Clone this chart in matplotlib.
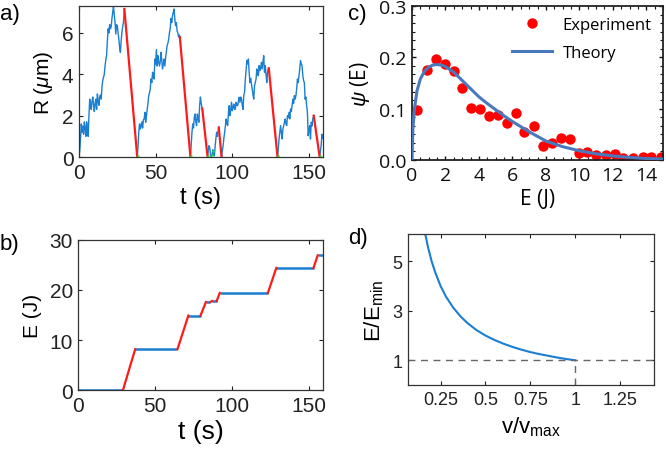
import matplotlib
matplotlib.use("Agg")
import matplotlib.pyplot as plt
from matplotlib.ticker import MultipleLocator, FormatStrFormatter

plt.rcParams['font.family'] = ['Liberation Sans', 'DejaVu Sans']
plt.rcParams['mathtext.fontset'] = 'custom'
plt.rcParams['mathtext.rm'] = 'Liberation Sans'
plt.rcParams['mathtext.it'] = 'Liberation Sans:italic'

# ---------------- Panel a data: R(t) ----------------
a_t1 = [0.0,0.5,1.0,1.5,2.0,2.5,3.0,3.5,4.0,4.5,5.0,5.5,6.0,6.5,7.0,7.5,8.0,8.5,9.0,9.5,
        10.0,10.5,11.0,11.5,12.0,12.5,13.0,13.5,14.0,14.5,15.0,15.5,16.0,16.5,17.0,17.5,18.0,18.5,19.0,19.5,
        20.0,20.5,21.0,21.5,22.0,22.5,23.0,23.5,24.0,24.5,25.0,25.5,26.0,26.5,27.0,27.5,28.0,28.5,29.0,29.6]
a_R1 = [0.0,0.3,0.9,1.6,1.2,1.5,1.1,1.7,1.4,1.0,
        1.7,1.3,1.0,2.0,2.8,2.4,2.3,2.7,2.9,2.5,
        2.2,2.6,2.8,2.3,3.05,2.7,2.5,2.9,3.0,2.8,
        3.4,3.7,3.85,4.0,4.4,4.7,4.9,5.6,6.2,6.0,
        6.4,6.2,6.3,6.7,7.0,7.3,6.9,6.5,5.95,6.4,
        6.35,6.0,5.7,5.3,5.06,5.6,6.03,6.3,6.5,7.16]
a_t2 = [38.0,38.5,39.0,39.5,40.0,40.5,41.0,41.5,42.0,42.5,43.0,43.5,44.0,44.5,45.0,45.5,46.0,46.5,47.0,47.5,
        48.0,48.5,49.0,49.5,50.0,50.5,51.0,51.5,52.0,52.5,53.0,53.5,54.0,54.5,55.0,55.5,56.0,56.5,57.0,57.5,
        58.0,58.5,59.0,59.5,60.0,60.5,61.0,61.5,62.0,62.5,63.0,63.5,64.0,64.5,65.0,65.5,65.8]
a_R2 = [0.0,0.5,1.2,1.6,1.35,1.5,1.7,1.4,1.8,1.84,
        2.16,1.68,2.0,2.3,2.6,2.97,3.1,3.3,3.77,3.6,
        4.1,3.9,3.77,4.74,4.5,5.2,4.4,4.9,4.6,4.4,
        4.6,5.06,4.7,4.26,4.5,4.74,4.4,4.8,5.1,5.4,
        5.5,5.7,6.0,6.2,6.7,6.5,6.84,7.0,7.16,6.7,
        6.35,6.5,6.1,6.0,5.8,5.9,5.79]
a_t3 = [72.7,73.2,73.7,74.2,74.7,75.2,75.7,76.2,76.7,77.2,77.7,78.2,78.7,79.2,79.7,80.4]
a_R3 = [0.0,0.6,1.2,1.6,1.4,1.9,2.08,1.7,1.52,2.08,1.9,1.68,2.48,2.9,2.6,2.35]
a_t4 = [83.9,84.3,84.8,85.3,85.8,86.3,86.8,87.3,87.8,88.3,88.8,89.3,89.8,90.3,90.8,91.2]
a_R4 = [0.0,0.3,0.55,0.45,0.1,0.0,0.1,0.35,0.15,0.05,0.5,0.9,1.2,1.0,1.3,1.43]
a_t5 = [93.0,93.5,94.0,94.5,95.0,95.5,96.0,96.5,97.0,97.5,98.0,98.5,99.0,99.5,100.0,100.5,101.0,101.5,102.0,102.5,
        103.0,103.5,104.0,104.5,105.0,105.5,106.0,106.5,107.0,107.5,108.0,108.5,109.0,109.5,110.0,110.5,111.0,111.5,112.0,112.5,
        113.0,113.5,114.0,114.5,115.0,115.5,116.0,116.5,117.0,117.5,118.0,118.5,119.0,119.5,120.0,120.5,121.0,121.5,122.0,122.5,
        123.0,123.5,123.8]
a_R5 = [0.0,0.3,0.55,0.9,1.19,1.5,1.84,1.6,1.52,2.16,
        2.48,2.0,2.3,2.65,2.24,2.4,2.56,2.3,2.32,2.65,
        2.5,2.48,2.7,2.89,2.65,2.9,2.8,2.5,2.3,3.0,
        3.13,3.77,4.2,4.66,4.5,4.74,4.1,3.6,3.8,3.53,
        3.3,3.0,2.8,3.45,3.6,3.77,4.26,4.0,3.93,4.42,
        4.18,4.3,4.58,4.26,4.6,4.9,4.1,4.42,4.0,3.6,
        4.1,4.26,4.29]
a_t6 = [129.5,130.0,130.5,131.0,131.5,132.0,132.5,133.0,133.5,134.0,134.5,135.0,135.5,136.0,136.5,137.0,137.5,138.0,138.5,139.0,
        139.5,140.0,140.5,141.0,141.5,142.0,142.5,143.0,143.5,144.0,144.5,145.0,145.5,146.0,146.5,147.0,147.5,148.0,148.5,149.0,
        149.5,150.0,150.5,151.0,151.5,152.0,152.5,153.1]
a_R6 = [0.0,0.4,0.87,1.19,1.52,1.2,0.87,1.35,1.5,1.68,
        1.84,1.6,1.52,2.0,1.9,2.16,1.84,2.32,2.2,2.48,
        2.8,2.6,2.97,2.8,2.97,3.3,3.77,3.6,3.93,4.26,
        4.66,4.5,4.42,3.93,3.7,3.6,2.8,2.9,2.48,2.16,
        1.03,1.3,1.52,0.87,1.68,1.5,1.84,2.0]
a_t7 = [157.0,157.5,158.0,158.5,159.0]
a_R7 = [0.0,0.3,0.6,1.1,0.9]

a_red_t0 = [29.6, 65.8, 80.4, 91.2, 123.8, 153.1]
a_red_R0 = [7.16, 5.79, 2.35, 1.43, 4.29, 2.0]
a_red_t1 = [38.0, 72.7, 83.9, 93.0, 129.5, 157.0]

a_green_t = [38.0, 38.4, 72.7, 73.0, 83.9, 84.2, 86.3, 86.8, 87.3, 129.5, 129.8, 157.0, 157.3]
a_green_R = [0.0, 0.05, 0.0, 0.05, 0.0, 0.05, 0.0, 0.1, 0.3, 0.0, 0.05, 0.0, 0.05]

# ---------------- Panel b data: E(t) ----------------
b_ramp_t0 = [29.0, 64.5, 79.5, 85.9, 90.0, 123.3, 153.0]
b_ramp_t1 = [37.0, 71.6, 83.0, 87.0, 92.0, 128.8, 155.7]
b_levels = [0.0, 8.2, 14.9, 17.6, 17.8, 19.4, 24.4, 26.9]
b_tmax = 159.0

# ---------------- Panel c data ----------------
c_exp_E = [0.27,0.89,1.44,1.98,2.49,3.01,3.53,4.04,4.6,5.15,5.67,6.2,6.72,7.28,
           7.84,8.37,8.89,9.44,9.96,10.47,10.99,11.6,12.1,12.6,13.2,13.8,14.3,14.9]
c_exp_psi = [0.098,0.176,0.196,0.188,0.173,0.141,0.102,0.100,0.085,0.088,0.073,0.091,0.054,0.066,
             0.027,0.033,0.043,0.040,0.013,0.016,0.010,0.010,0.011,0.003,0.003,0.005,0.005,0.005]
c_th_E = [0,0.05,0.15,0.3,0.5,0.75,1,1.25,1.5,1.75,2,2.5,3,3.5,4,4.5,5,5.5,6,7,8,9,10,11,12,13,14,15]
c_th_psi = [0,0.06,0.10,0.135,0.158,0.173,0.181,0.185,0.186,0.185,0.182,0.171,0.155,0.139,0.123,
            0.110,0.098,0.086,0.075,0.055,0.037,0.026,0.018,0.012,0.008,0.005,0.003,0.002]

# ---------------- Panel d data ----------------
d_v = [0.16,0.18,0.2,0.22,0.25,0.28,0.32,0.36,0.4,0.45,0.5,0.55,0.6,0.65,0.7,0.75,0.8,0.85,0.9,0.95,1.0]
d_E = [6.25,5.56,5.0,4.55,4.0,3.57,3.13,2.78,2.5,2.22,2.0,1.82,1.67,1.54,1.43,1.33,1.25,1.18,1.11,1.05,1.0]
d_ref = 1.0

BLUE = '#1a7fd0'
RED = '#ff1a1a'
GREEN = '#22ee22'
FRAME = '#333333'
OS = ['Open Sans', 'DejaVu Sans']

fig = plt.figure(figsize=(6.66, 4.56), dpi=100)

def matlab_style(ax, fs):
    ax.tick_params(direction='in', top=True, right=True, length=3, width=0.8,
                   colors='#222222', labelsize=fs, pad=4)
    for s in ax.spines.values():
        s.set_color(FRAME)
        s.set_linewidth(0.9)

# Panel a
axa = fig.add_axes([0.1186, 0.6535, 0.366, 0.331])
for tt, rr in [(a_t1, a_R1), (a_t2, a_R2), (a_t3, a_R3), (a_t4, a_R4),
               (a_t5, a_R5), (a_t6, a_R6), (a_t7, a_R7)]:
    axa.plot(tt, rr, color=BLUE, lw=1.0)
for t0, r0, t1 in zip(a_red_t0, a_red_R0, a_red_t1):
    axa.plot([t0, t1], [r0, 0], color=RED, lw=1.6)
axa.plot(a_green_t, a_green_R, 's', color=GREEN, ms=1.8, mec='none')
axa.set_xlim(0, 159)
axa.set_ylim(0, 7.3)
axa.set_xticks([0, 50, 100, 150])
axa.set_yticks([0, 2, 4, 6])
matlab_style(axa, 15)
axa.set_xlabel('t (s)', fontsize=17, labelpad=3)
axa.set_ylabel(r'R ($\mu$m)', fontsize=15, labelpad=5)
fig.text(0.0, 0.968, 'a)', fontsize=16, va='center', ha='left')

# Panel b
axb = fig.add_axes([0.1176, 0.1419, 0.367, 0.330])
levels_start = [0.0] + b_ramp_t1
levels_end = b_ramp_t0 + [b_tmax]
for ts, te, lv in zip(levels_start, levels_end, b_levels):
    axb.plot([ts, te], [lv, lv], color=BLUE, lw=1.8, solid_capstyle='butt')
for i, (t0, t1) in enumerate(zip(b_ramp_t0, b_ramp_t1)):
    axb.plot([t0, t1], [b_levels[i], b_levels[i + 1]], color=RED, lw=1.6)
axb.set_xlim(0, 159)
axb.set_ylim(0, 30)
axb.set_xticks([0, 50, 100, 150])
axb.set_yticks([0, 10, 20, 30])
matlab_style(axb, 15)
axb.set_xlabel('t (s)', fontsize=19, labelpad=3)
axb.set_ylabel('E (J)', fontsize=15, labelpad=5)
fig.text(0.0, 0.463, 'b)', fontsize=16, va='center', ha='left')

# Panel c
axc = fig.add_axes([0.6186, 0.6469, 0.377, 0.3377])
axc.plot(c_exp_E, c_exp_psi, 'o', color='#ff0000', ms=7.5, mec='none', label='Experiment', zorder=2)
axc.plot(c_th_E, c_th_psi, '-', color='#4a78bc', lw=2.2, label='Theory', zorder=3)
axc.set_xlim(0, 15)
axc.set_ylim(0, 0.3)
axc.set_xticks([0, 2, 4, 6, 8, 10, 12, 14])
axc.set_yticks([0.0, 0.1, 0.2, 0.3])
axc.yaxis.set_major_formatter(FormatStrFormatter('%.1f'))
axc.xaxis.set_minor_locator(MultipleLocator(0.5))
axc.yaxis.set_minor_locator(MultipleLocator(0.1 / 6))
axc.tick_params(which='both', direction='in', top=True, right=True, colors='#111111')
axc.tick_params(which='major', length=3, width=1.0, labelsize=14, pad=4)
axc.tick_params(which='minor', length=2, width=0.8)
for lab in axc.get_xticklabels() + axc.get_yticklabels():
    lab.set_fontfamily(OS)
for s in axc.spines.values():
    s.set_color('#222222')
    s.set_linewidth(1.3)
axc.set_xlabel('E (J)', fontsize=15, family=OS, labelpad=3)
axc.set_ylabel(r'$\psi$ (E)', fontsize=15, family=OS, labelpad=5)
leg = axc.legend(loc='upper right', bbox_to_anchor=(0.98, 0.97), frameon=False,
                 prop={'family': 'Open Sans', 'size': 12},
                 handlelength=2.4, handletextpad=0.6, borderaxespad=0.0, labelspacing=0.7)
fig.text(0.522, 0.968, 'c)', fontsize=16, va='center', ha='left')

# Panel d
axd = fig.add_axes([0.6131, 0.1535, 0.369, 0.331])
axd.plot(d_v, d_E, color='#1a7fd0', lw=1.5)
axd.axhline(d_ref, color='#666666', lw=1.0, ls=(0, (5, 4)))
axd.plot([d_v[-1], d_v[-1]], [0, d_ref], color='#666666', lw=1.0, ls=(0, (5, 4)))
axd.set_xlim(0.07, 1.44)
axd.set_ylim(0, 6.1)
axd.set_xticks([0.25, 0.5, 0.75, 1.0, 1.25])
axd.set_xticklabels(['0.25', '0.5', '0.75', '1', '1.25'])
axd.set_yticks([1, 3, 5])
matlab_style(axd, 13)
axd.set_xlabel(r'v/v$_{\mathrm{max}}$', fontsize=16, labelpad=5)
axd.set_ylabel(r'E/E$_{\mathrm{min}}$', fontsize=16, labelpad=5)
fig.text(0.522, 0.478, 'd)', fontsize=16, va='center', ha='left')

fig.savefig('out.png', dpi=100)
